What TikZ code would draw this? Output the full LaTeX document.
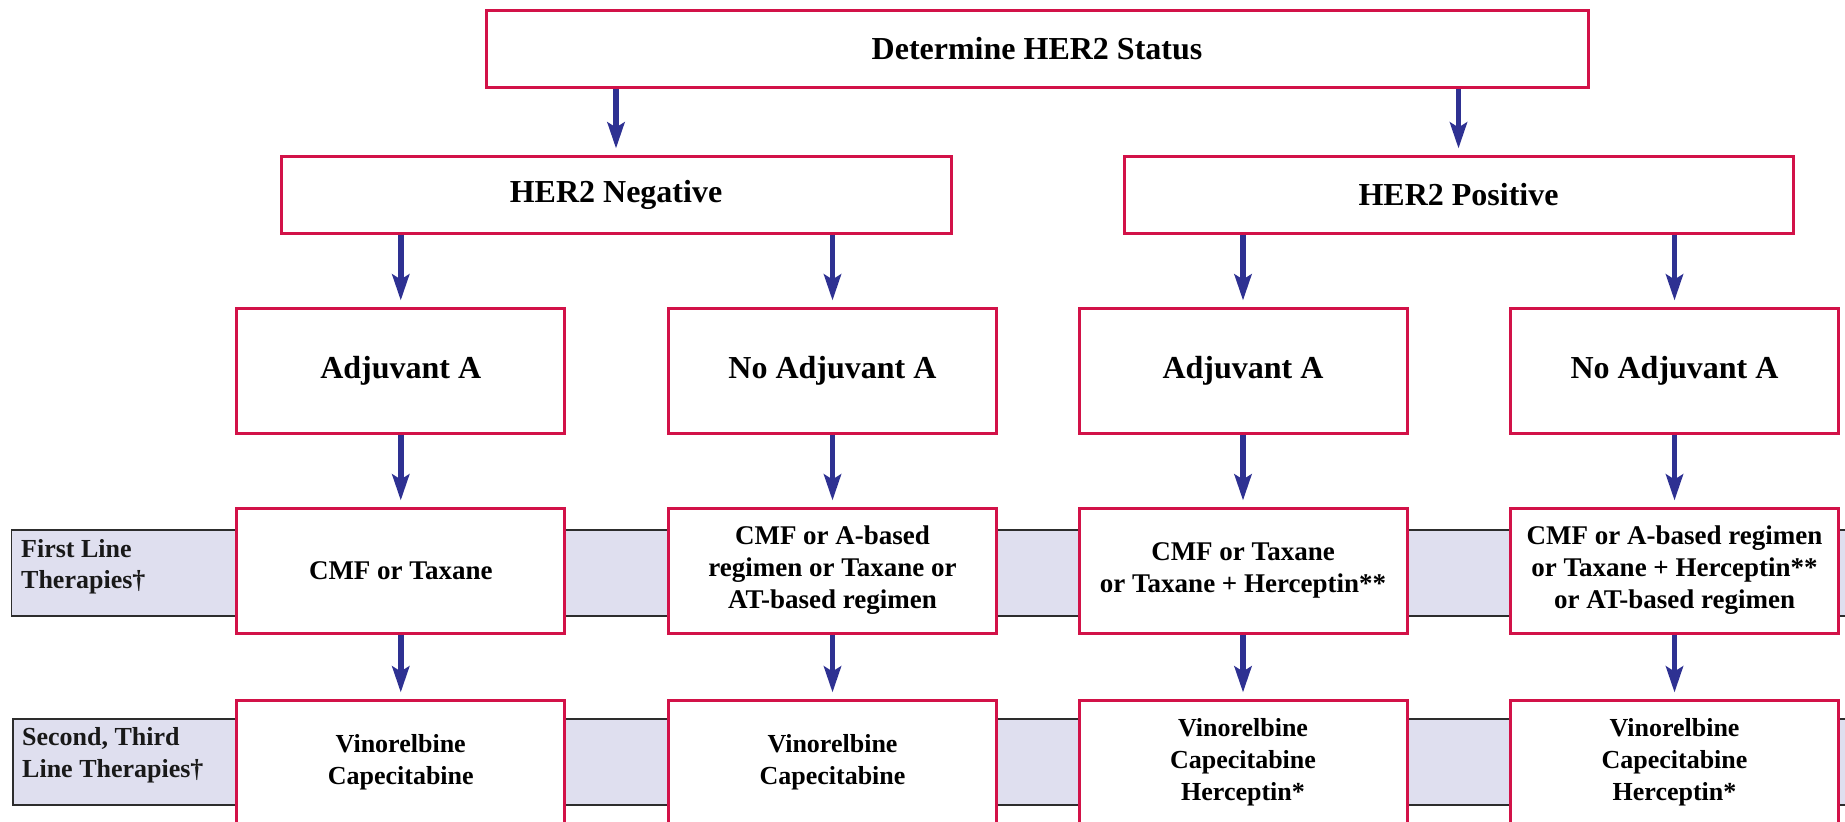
\documentclass[tikz,border=0pt]{standalone}
\usepackage{fontspec}
\setmainfont{Liberation Serif}
\usetikzlibrary{arrows.meta}
\definecolor{boxred}{RGB}{210,18,72}
\definecolor{arrblue}{RGB}{46,49,146}
\definecolor{bandfill}{RGB}{223,223,239}
\definecolor{bandline}{RGB}{45,45,45}
\begin{document}
\begin{tikzpicture}[x=1pt,y=-1pt,
  box/.style={draw=boxred, line width=3pt, fill=white, inner sep=0pt, align=center},
  bigtxt/.style={font=\bfseries\fontsize{32}{38}\selectfont},
  midtxt/.style={font=\bfseries\fontsize{27}{32}\selectfont},
  smltxt/.style={font=\bfseries\fontsize{26}{32}\selectfont},
  lvltop/.style={box, bigtxt, minimum height=77pt},
  lvlthree/.style={box, bigtxt, minimum width=328pt, minimum height=125pt},
  lvlfour/.style={box, midtxt, minimum width=328pt, minimum height=125pt},
  lvlfive/.style={box, smltxt, minimum width=328pt, minimum height=125pt},
  bandbox/.style={draw=bandline, fill=bandfill, line width=1.5pt},
  lbl/.style={font=\bfseries\fontsize{26}{31}\selectfont, text=black!90, inner sep=0pt, anchor=base west},
  arr/.style={draw=arrblue, line width=5.5pt, -{Stealth[length=26pt,width=17pt,inset=5pt]}, shorten >=6pt}
]
\useasboundingbox (0,0) rectangle (1845,822);

% bands
\draw[bandbox] (11.5,530) rectangle (1860,616);
\draw[bandbox] (13,719) rectangle (1860,805);
\node[lbl] (l1a) at (21,557) {First Line};
\node[lbl] (l1b) at (21,588) {Therapies†};
\node[lbl] (l2a) at (22,745) {Second, Third};
\node[lbl] (l2b) at (22,777) {Line Therapies†};

% level 1 and 2
\node[lvltop, minimum width=1102pt] (top) at (1037,49) {Determine HER2 Status};
\node[lvltop, minimum width=670pt] (neg) at (616,194.5) {HER2 Negative};
\node[lvltop, minimum width=669pt] (pos) at (1458.5,194.5) {HER2 Positive};

% level 3
\node[lvlthree] (a1) at (400.75,370.5) {Adjuvant A};
\node[lvlthree] (a2) at (832.5,370.5) {No Adjuvant A};
\node[lvlthree] (a3) at (1243,370.5) {Adjuvant A};
\node[lvlthree] (a4) at (1674.5,370.5) {No Adjuvant A};

% level 4
\node[lvlfour] (f1) at (400.75,570.5) {CMF or Taxane};
\node[lvlfour] (f2) at (832.5,570.5) {CMF or A-based\\regimen or Taxane or\\AT-based regimen};
\node[lvlfour] (f3) at (1243,570.5) {CMF or Taxane\\or Taxane + Herceptin**};
\node[lvlfour] (f4) at (1674.5,570.5) {CMF or A-based regimen\\or Taxane + Herceptin**\\or AT-based regimen};

% level 5
\node[lvlfive] (s1) at (400.75,762.5) {Vinorelbine\\Capecitabine};
\node[lvlfive] (s2) at (832.5,762.5) {Vinorelbine\\Capecitabine};
\node[lvlfive] (s3) at (1243,762.5) {Vinorelbine\\Capecitabine\\Herceptin*};
\node[lvlfive] (s4) at (1674.5,762.5) {Vinorelbine\\Capecitabine\\Herceptin*};

% arrows
\draw[arr] (top.south -| neg.north) -- (neg.north);
\draw[arr] (top.south -| pos.north) -- (pos.north);
\draw[arr] (neg.south -| a1.north) -- (a1.north);
\draw[arr] (neg.south -| a2.north) -- (a2.north);
\draw[arr] (pos.south -| a3.north) -- (a3.north);
\draw[arr] (pos.south -| a4.north) -- (a4.north);
\foreach \i in {1,2,3,4}{
  \draw[arr] (a\i.south) -- (f\i.north);
  \draw[arr] (f\i.south) -- (s\i.north);
}
\end{tikzpicture}
\end{document}
